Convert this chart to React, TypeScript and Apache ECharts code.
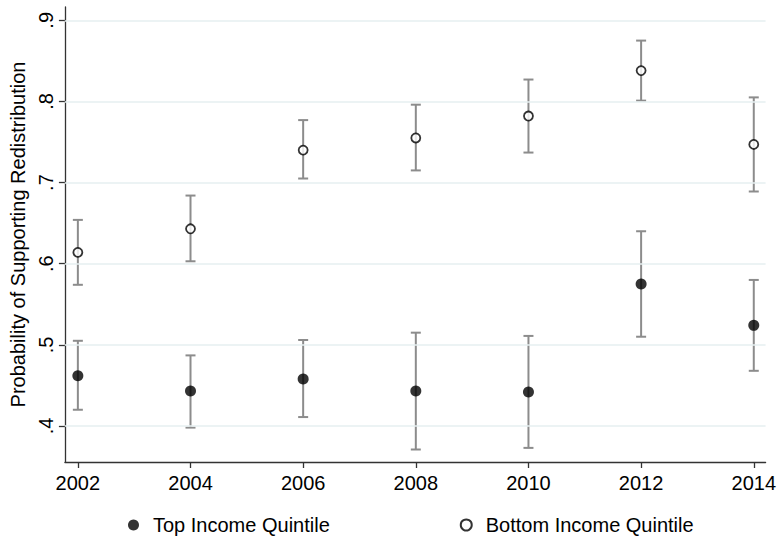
import React, { useEffect, useRef } from "react";
import * as echarts from "echarts";

const years = [2002, 2004, 2006, 2008, 2010, 2012, 2014];
const topMean = [0.462, 0.443, 0.458, 0.443, 0.442, 0.575, 0.524];
const topLow = [0.42, 0.398, 0.411, 0.371, 0.373, 0.51, 0.468];
const topHigh = [0.505, 0.487, 0.506, 0.515, 0.511, 0.64, 0.58];
const botMean = [0.614, 0.643, 0.74, 0.755, 0.782, 0.838, 0.747];
const botLow = [0.574, 0.603, 0.705, 0.715, 0.737, 0.801, 0.689];
const botHigh = [0.654, 0.684, 0.777, 0.796, 0.827, 0.875, 0.805];
const yTicks = [0.4, 0.5, 0.6, 0.7, 0.8, 0.9];

const FONT = "'Liberation Sans', Arial, Helvetica, sans-serif";
const BAR = "#8c8c8c";

function errorSeries(lo: number[], hi: number[]) {
  return {
    type: "custom",
    z: 2,
    silent: true,
    data: years.map((y, i) => [y, lo[i], hi[i]]),
    renderItem: (_params: any, api: any) => {
      const x = api.value(0);
      const pLo = api.coord([x, api.value(1)]);
      const pHi = api.coord([x, api.value(2)]);
      const w = 5;
      const style = { stroke: BAR, lineWidth: 2 };
      return {
        type: "group",
        children: [
          { type: "line", shape: { x1: pLo[0], y1: pLo[1], x2: pHi[0], y2: pHi[1] }, style },
          { type: "line", shape: { x1: pLo[0] - w, y1: pLo[1], x2: pLo[0] + w, y2: pLo[1] }, style },
          { type: "line", shape: { x1: pHi[0] - w, y1: pHi[1], x2: pHi[0] + w, y2: pHi[1] }, style },
        ],
      };
    },
  };
}

export default function App() {
  const ref = useRef<HTMLDivElement>(null);
  useEffect(() => {
    if (!ref.current) return;
    const chart = echarts.init(ref.current, null, { renderer: "svg" });
    chart.setOption({
      animation: false,
      backgroundColor: "#ffffff",
      textStyle: { fontFamily: FONT, color: "#000" },
      grid: { left: 64, right: 10, top: 7, bottom: 75 },
      legend: {
        data: ["Top Income Quintile", "Bottom Income Quintile"],
        left: 123,
        top: 510,
        itemGap: 130,
        itemWidth: 11,
        itemHeight: 11,
        textStyle: { fontSize: 20, color: "#000", fontFamily: FONT, padding: [0, 0, 0, 9] },
      },
      xAxis: {
        type: "value",
        min: 2001.77,
        max: 2014.21,
        splitLine: { show: false },
        axisLine: { show: true, onZero: false, lineStyle: { color: "#333", width: 1.3 } },
        axisTick: { show: true, length: 6, customValues: years, lineStyle: { color: "#333", width: 1.3 } },
        axisLabel: {
          customValues: years,
          fontSize: 20,
          color: "#000",
          margin: 11,
          fontFamily: FONT,
          formatter: (v: number) => String(Math.round(v)),
        },
      },
      yAxis: {
        type: "value",
        min: 0.3556,
        max: 0.9164,
        name: "Probability of Supporting Redistribution",
        nameLocation: "middle",
        nameGap: 35,
        nameTextStyle: { fontSize: 20, color: "#000", fontFamily: FONT },
        splitLine: { show: false },
        axisLine: { show: true, onZero: false, lineStyle: { color: "#333", width: 1.3 } },
        axisTick: { show: true, length: 6, customValues: yTicks, lineStyle: { color: "#333", width: 1.3 } },
        axisLabel: {
          customValues: yTicks,
          rotate: 90,
          fontSize: 20,
          color: "#000",
          margin: 9,
          fontFamily: FONT,
          formatter: (v: number) => "." + String(Math.round(v * 10)),
        },
      },
      series: [
        {
          type: "line",
          data: [],
          z: 0,
          silent: true,
          markLine: {
            silent: true,
            symbol: ["none", "none"],
            label: { show: false },
            lineStyle: { color: "#e6eff1", width: 1.5, type: "solid" },
            data: yTicks.map((v) => ({ yAxis: v })),
          },
        },
        errorSeries(topLow, topHigh),
        errorSeries(botLow, botHigh),
        {
          name: "Top Income Quintile",
          type: "scatter",
          z: 5,
          symbol: "circle",
          symbolSize: 11,
          itemStyle: { color: "#000" },
          data: years.map((y, i) => [y, topMean[i]]),
        },
        {
          name: "Bottom Income Quintile",
          type: "scatter",
          z: 5,
          symbol: "circle",
          symbolSize: 9,
          itemStyle: { color: "#fff", borderColor: "#000", borderWidth: 1.8 },
          data: years.map((y, i) => [y, botMean[i]]),
        },
      ],
    });
    return () => chart.dispose();
  }, []);
  return <div ref={ref} style={{ width: 779, height: 537, position: "absolute", left: 0, top: 0 }} />;
}
